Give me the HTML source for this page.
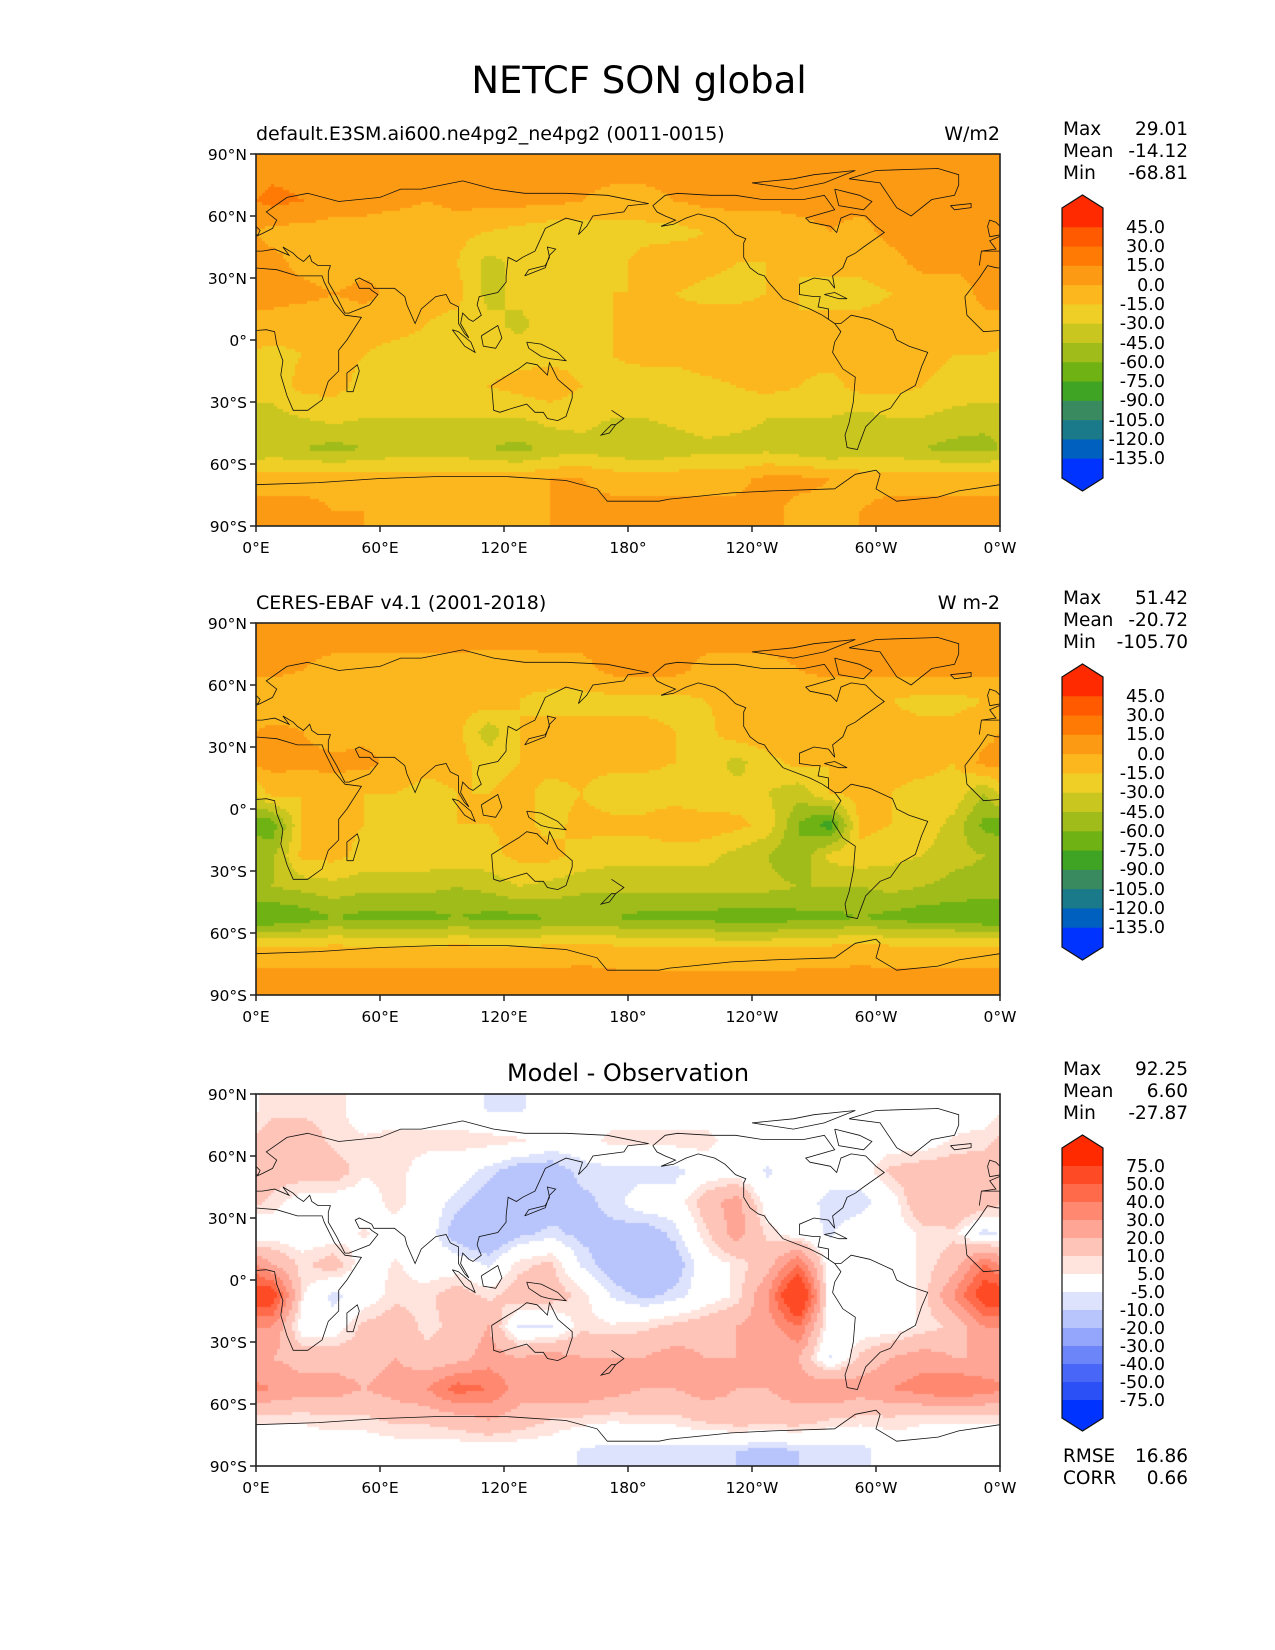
<!DOCTYPE html>
<html><head><meta charset="utf-8">
<style>
body{margin:0;background:#fff;}
#fig{position:relative;width:1275px;height:1650px;overflow:hidden;font-family:"DejaVu Sans","Liberation Sans",sans-serif;color:#000;}
.t{position:absolute;white-space:nowrap;}
canvas{position:absolute;}
svg{position:absolute;left:0;top:0;}
</style></head>
<body>
<div id="fig">
<div class="t" style="left:0;width:1278px;text-align:center;top:59px;font-size:37px;">NETCF SON global</div>
</div>
<script>
// ---------- data ----------
const latLabels=["90°N","60°N","30°N","0°","30°S","60°S","90°S"];
const lonLabels=["0°E","60°E","120°E","180°","120°W","60°W","0°W"];
const absBounds=[-135,-120,-105,-90,-75,-60,-45,-30,-15,0,15,30,45];
const absColors=["#0033ff","#0060c0","#1a7a8a","#398a5e","#3fa423","#6eb213","#a0bc1a","#c9c620","#efcf25","#fdb71e","#fd9a14","#ff7a05","#ff5a00","#ff2a00"];
const diffBounds=[-75,-50,-40,-30,-20,-10,-5,5,10,20,30,40,50,75];
const diffColors=["#0033ff","#2a50f6","#4866f8","#6c86fa","#94a6fb","#b8c4fc","#dde2fd","#ffffff","#ffe3dd","#ffc4b8","#ffa595","#ff8870","#ff6a4a","#ff4a26","#ff2a00"];
const modelStats=["29.01","-14.12","-68.81"];
const obsStats=["51.42","-20.72","-105.70"];
const diffStats=["92.25","6.60","-27.87"];
const diffScores=["16.86","0.66"];
// grids: 12 rows (lat 82.5N .. 82.5S, 15deg), 24 cols (lon 7.5E .. 352.5E, 15deg)
const modelGrid=[
[10,10,5,5,5,5,5,5,5,5,5,5,5,5,5,5,5,5,5,5,5,5,5,5],
[20,15,5,5,5,0,5,5,5,5,0,-5,-5,0,5,5,5,5,5,5,5,5,5,10],
[-5,-5,-5,-5,-10,-10,-10,-15,-20,-25,-25,-20,-20,-20,-15,-10,-10,-5,0,-5,5,5,5,5],
[5,-5,-10,-5,-10,-10,-15,-35,-25,-15,-20,-20,-10,-5,-10,-15,-15,-15,-10,-10,-5,5,5,5],
[5,5,0,5,-5,-10,-10,-35,-25,-20,-20,-15,-15,-15,-20,-20,-15,-15,-20,-20,-15,-10,-10,5],
[-5,-10,-10,-10,-10,-15,-20,-25,-35,-20,-15,-15,-15,-10,-5,-5,-5,-15,-10,-10,-10,-10,-10,-5],
[-20,-15,-10,-15,-20,-20,-20,-20,-20,-20,-20,-15,-10,-10,-5,-5,-5,-10,-10,-10,-5,-10,-15,-15],
[-25,-10,-10,-20,-20,-20,-20,-15,-10,-5,-15,-20,-25,-25,-20,-15,-10,-15,-20,-10,-10,-15,-20,-20],
[-35,-30,-25,-30,-30,-30,-30,-30,-30,-25,-25,-30,-30,-25,-20,-25,-30,-30,-30,-35,-30,-30,-35,-40],
[-40,-45,-50,-45,-40,-40,-40,-45,-50,-40,-35,-40,-45,-40,-35,-35,-35,-40,-45,-40,-40,-45,-50,-50],
[-5,-5,-5,-5,-5,-5,-5,-5,-5,0,0,-5,-5,-5,-5,-5,5,5,0,-5,-5,-5,-5,-5],
[5,5,0,0,-5,-5,-5,-5,-5,0,5,5,5,5,5,5,5,-5,-5,0,5,5,5,5]];
const obsGrid=[
[5,5,5,5,5,5,5,5,5,5,5,5,5,5,5,5,5,5,5,5,5,5,5,5],
[5,0,-5,-5,-5,-5,-5,-10,-10,-5,-5,5,5,5,-5,-5,-5,0,5,5,5,5,5,5],
[-15,-10,-15,-10,-10,-10,-10,-5,-15,-20,-20,-20,-20,-20,-15,-10,-5,-10,-15,-15,-15,-20,-20,-15],
[5,0,-10,-5,-10,-5,-10,-40,-15,-10,-10,-10,-10,-15,-20,-5,-5,-5,-10,-10,-10,-10,-10,-5],
[5,5,5,5,-5,-10,-10,-20,-15,-10,-10,-10,-10,-15,-20,-35,-20,-10,-15,-15,-10,-10,-15,5],
[-10,-15,-10,-15,-15,-20,-15,-15,-10,-20,-15,-25,-25,-25,-30,-25,-30,-40,-15,-10,-15,-20,-20,-45],
[-70,-15,-10,-15,-20,-20,-15,-15,-10,-20,-10,-10,-10,0,-5,-10,-20,-60,-85,-10,-15,-20,-35,-65],
[-50,-10,-10,-20,-20,-20,-20,-20,-10,-10,-20,-25,-25,-25,-25,-35,-45,-60,-25,-20,-25,-30,-40,-45],
[-45,-40,-35,-40,-40,-40,-45,-40,-30,-35,-40,-40,-40,-40,-40,-40,-40,-45,-45,-45,-40,-45,-50,-50],
[-75,-70,-60,-65,-65,-65,-60,-65,-65,-60,-60,-60,-65,-65,-65,-70,-70,-65,-65,-60,-65,-70,-70,-75],
[-10,-10,-10,-10,-10,-10,-10,-10,-10,-10,-5,-10,-15,-15,-15,-15,-15,-10,-10,-5,-10,-10,-10,-10],
[5,5,5,5,5,5,5,5,5,5,5,5,5,5,5,5,5,5,5,5,5,5,5,5]];
const diffGrid=[
[8,8,8,0,0,0,0,-6,-6,0,0,0,0,0,0,0,0,0,0,0,0,0,0,0],
[15,15,8,6,8,8,8,8,6,0,0,8,8,8,8,0,0,0,0,0,0,0,6,8],
[15,15,15,6,8,0,0,-8,-15,-15,-8,-8,-8,-8,0,0,-6,0,0,0,12,15,15,15],
[8,0,0,0,8,0,-8,-15,-20,-15,-12,-8,0,0,15,25,0,0,-8,-8,0,20,20,15],
[0,0,0,6,0,0,-15,-20,-12,-8,-12,-12,-15,-8,8,25,8,0,-6,0,0,6,8,-8],
[20,8,15,0,6,0,0,-6,8,12,-6,-15,-20,-15,0,6,15,40,0,0,0,6,15,40],
[60,6,-8,0,8,8,15,8,15,15,8,-6,-12,-8,0,6,30,75,0,0,0,6,30,60],
[30,0,0,12,15,8,12,20,-6,-6,8,6,8,12,15,20,25,40,0,0,0,6,12,30],
[20,15,15,15,20,12,15,25,20,25,20,20,20,25,20,20,20,20,-6,12,20,25,20,20],
[30,25,25,20,25,30,45,40,25,30,30,25,20,20,25,20,20,25,30,25,30,35,40,35],
[6,6,8,8,12,12,15,20,15,10,8,6,8,8,12,15,15,15,10,8,8,6,6,6],
[0,0,0,0,0,0,0,0,0,0,-6,-8,-8,-8,-8,-10,-12,-10,-8,-8,0,0,0,0]];
const coasts=[
[[-17,21],[-16,12],[-8,4],[5,5],[9,4],[10,-2],[13,-10],[12,-17],[15,-27],[18,-34],[25,-34],[32,-29],[35,-20],[40,-15],[40,-5],[44,0],[51,11],[43,12],[38,18],[33,28],[32,31],[20,31],[10,34],[-2,35],[-6,36],[-10,30],[-17,21]],
[[-10,36],[-9,43],[-2,44],[-5,48],[2,51],[8,54],[10,58],[5,62],[15,69],[25,71],[40,67],[60,69],[70,73],[80,73],[100,77],[115,73],[130,71],[150,71],[170,70],[190,66],[180,65],[178,62],[163,60],[160,55],[156,51],[158,57],[150,59],[140,54],[135,43],[129,40],[126,38],[122,40],[121,31],[121,28],[117,23],[108,21],[107,17],[109,12],[105,9],[103,10],[100,13],[99,8],[103,1],[101,3],[98,8],[98,16],[94,18],[92,22],[87,21],[80,15],[77,8],[73,17],[72,21],[67,25],[57,25],[56,27],[50,30],[48,29],[50,25],[55,25],[56,24],[59,22],[55,17],[45,13],[43,13],[39,21],[35,28],[35,33],[36,36],[30,36],[27,38],[26,41],[23,38],[20,40],[18,42],[13,45],[16,41],[9,44],[3,43],[-9,43],[-10,36]],
[[-5,50],[1,51],[2,53],[-2,57],[-5,58],[-6,55],[-5,50]],
[[130,31],[132,34],[140,36],[142,40],[141,45],[145,44],[142,41],[140,35],[135,33],[130,31]],
[[114,-22],[115,-34],[118,-35],[124,-33],[131,-31],[135,-35],[139,-35],[141,-38],[146,-39],[150,-37],[153,-28],[153,-25],[146,-19],[142,-11],[141,-17],[136,-12],[131,-11],[127,-14],[122,-17],[114,-22]],
[[109,2],[110,-3],[116,-4],[119,1],[117,7],[109,2]],
[[95,5],[98,4],[104,-1],[106,-6],[101,-3],[95,5]],
[[131,-1],[138,-2],[146,-6],[150,-10],[142,-9],[138,-8],[132,-4],[131,-1]],
[[172,-34],[178,-38],[174,-41],[172,-41],[167,-46],[171,-45],[174,-41]],
[[44,-25],[47,-25],[50,-15],[49,-12],[44,-16],[44,-25]],
[[-168,65],[-162,70],[-156,71],[-140,70],[-128,70],[-115,68],[-95,68],[-85,70],[-80,63],[-94,59],[-92,57],[-82,55],[-79,52],[-77,59],[-72,61],[-65,60],[-60,55],[-56,52],[-66,45],[-70,42],[-74,40],[-76,35],[-81,31],[-80,25],[-83,29],[-90,30],[-97,27],[-97,22],[-90,21],[-87,21],[-88,16],[-83,15],[-83,10],[-80,8],[-86,12],[-92,15],[-105,20],[-112,28],[-114,31],[-117,32],[-121,35],[-124,40],[-124,47],[-123,49],[-128,51],[-133,56],[-138,59],[-146,61],[-152,59],[-158,56],[-164,55],[-157,58],[-162,60],[-166,62],[-168,65]],
[[-80,8],[-77,8],[-72,12],[-63,10],[-52,5],[-50,0],[-44,-3],[-35,-6],[-38,-13],[-41,-22],[-48,-26],[-53,-33],[-58,-35],[-62,-39],[-65,-42],[-68,-50],[-69,-53],[-74,-52],[-75,-46],[-73,-40],[-71,-30],[-70,-18],[-76,-14],[-81,-6],[-80,-1],[-77,4],[-80,8]],
[[-73,78],[-60,82],[-30,83],[-20,80],[-20,75],[-22,70],[-33,68],[-43,60],[-50,64],[-54,70],[-58,76],[-73,78]],
[[-24,65],[-14,66],[-14,64],[-22,63],[-24,65]],
[[-80,73],[-68,70],[-62,67],[-66,63],[-78,65],[-80,73]],
[[-120,76],[-100,78],[-90,80],[-70,82],[-85,76],[-100,73],[-120,76]],
[[-85,22],[-80,23],[-74,20],[-78,20],[-85,22]]];
const antarctica=[[0,-70],[30,-69],[60,-67],[90,-66],[120,-66],[150,-68],[165,-72],[170,-78],[180,-78],[195,-78],[200,-77],[210,-76],[230,-74],[250,-73],[280,-72],[290,-65],[300,-63],[302,-65],[300,-72],[310,-78],[330,-76],[340,-73],[360,-70]];

// ---------- layout ----------
const MX=256, MW=744, MH=372;
const panels=[
 {top:154,grid:modelGrid,bounds:absBounds,colors:absColors,left:"default.E3SM.ai600.ne4pg2_ne4pg2 (0011-0015)",right:"W/m2",stats:modelStats,name:"model"},
 {top:623,grid:obsGrid,bounds:absBounds,colors:absColors,left:"CERES-EBAF v4.1 (2001-2018)",right:"W m-2",stats:obsStats,name:"obs"},
 {top:1094,grid:diffGrid,bounds:diffBounds,colors:diffColors,center:"Model - Observation",stats:diffStats,name:"diff"}];
const fig=document.getElementById('fig');
const NS="http://www.w3.org/2000/svg";
function xOf(lon){return MX+lon/360*MW;}
function yOf(top,lat){return top+(90-lat)/180*MH;}
function sample(g,lon,lat){
 let fc=lon/15-0.5, fr=(90-lat)/15-0.5;
 fr=Math.max(0,Math.min(11,fr));
 let c0=Math.floor(fc), t=fc-c0; let r0=Math.min(10,Math.floor(fr)), u=fr-r0;
 const ca=((c0%24)+24)%24, cb=(ca+1)%24;
 const a=g[r0][ca]*(1-t)+g[r0][cb]*t, b=g[r0+1][ca]*(1-t)+g[r0+1][cb]*t;
 return a*(1-u)+b*u;
}
function colorOf(v,bounds,colors){let i=0;while(i<bounds.length&&v>=bounds[i])i++;return colors[i];}
function txt(s,x,y,size,anchor,name){
 const d=document.createElement('div');d.className='t';d.textContent=s;
 
 
 d.style.fontSize=size+'px';d.style.top=(y-size*0.6)+'px';
 if(anchor==='end'){d.style.right=(1275-x)+'px';}
 else if(anchor==='middle'){d.style.left=(x-200)+'px';d.style.width='400px';d.style.textAlign='center';}
 else d.style.left=x+'px';
 fig.appendChild(d);return d;
}
panels.forEach(p=>{
 const cv=document.createElement('canvas');
 
 
 cv.width=MW;cv.height=MH;cv.style.left=MX+'px';cv.style.top=p.top+'px';
 fig.appendChild(cv);
 const ctx=cv.getContext('2d');const S=3;
 for(let y=0;y<MH;y+=S)for(let x=0;x<MW;x+=S){
  const lon=(x+S/2)/MW*360, lat=90-(y+S/2)/MH*180;
  ctx.fillStyle=colorOf(sample(p.grid,lon,lat),p.bounds,p.colors);
  ctx.fillRect(x,y,S,S);
 }
 const svg=document.createElementNS(NS,'svg');
 svg.setAttribute('width',1275);svg.setAttribute('height',1650);
 
 
 const cid='clip-'+p.name;
 svg.innerHTML=`<defs><clipPath id="${cid}"><rect x="${MX}" y="${p.top}" width="${MW}" height="${MH}"/></clipPath></defs>`;
 const g=document.createElementNS(NS,'g');g.setAttribute('clip-path',`url(#${cid})`);
 
 
 svg.appendChild(g);
 coasts.forEach(poly=>{[0,360].forEach(off=>{
  const pl=document.createElementNS(NS,'polyline');
  pl.setAttribute('points',poly.map(q=>xOf(q[0]+off).toFixed(1)+','+yOf(p.top,q[1]).toFixed(1)).join(' '));
  pl.setAttribute('fill','none');pl.setAttribute('stroke','#111');pl.setAttribute('stroke-width','0.8');
  
  
  g.appendChild(pl);});});
 const an=document.createElementNS(NS,'polyline');
 an.setAttribute('points',antarctica.map(q=>xOf(q[0]).toFixed(1)+','+yOf(p.top,q[1]).toFixed(1)).join(' '));
 an.setAttribute('fill','none');an.setAttribute('stroke','#111');an.setAttribute('stroke-width','0.8');
 
 
 g.appendChild(an);
 const fr=document.createElementNS(NS,'rect');
 fr.setAttribute('x',MX);fr.setAttribute('y',p.top);fr.setAttribute('width',MW);fr.setAttribute('height',MH);
 fr.setAttribute('fill','none');fr.setAttribute('stroke','#222');fr.setAttribute('stroke-width','1.6');
 
 
 svg.appendChild(fr);
 latLabels.forEach((l,i)=>{
  const y=p.top+i*MH/6;
  const tk=document.createElementNS(NS,'line');
  tk.setAttribute('x1',MX-6);tk.setAttribute('x2',MX);tk.setAttribute('y1',y);tk.setAttribute('y2',y);tk.setAttribute('stroke','#222');tk.setAttribute('stroke-width','1.5');
  
  
  svg.appendChild(tk);
  txt(l,MX-9,y+1,15.5,'end','y-tick-label');
 });
 lonLabels.forEach((l,i)=>{
  const x=MX+i*MW/6;
  const tk=document.createElementNS(NS,'line');
  tk.setAttribute('x1',x);tk.setAttribute('x2',x);tk.setAttribute('y1',p.top+MH);tk.setAttribute('y2',p.top+MH+6);tk.setAttribute('stroke','#222');tk.setAttribute('stroke-width','1.5');
  
  
  svg.appendChild(tk);
  txt(l,x,p.top+MH+22,15.5,'middle','x-tick-label');
 });
 // colorbar
 const cx=1062, cw=41, ry=p.top+54, n=p.colors.length, bh=270/n;
 p.colors.slice().reverse().forEach((c,i)=>{
  const r=document.createElementNS(NS,'rect');
  r.setAttribute('x',cx);r.setAttribute('y',ry+i*bh);r.setAttribute('width',cw);r.setAttribute('height',bh+0.5);r.setAttribute('fill',c);
  
  
  svg.appendChild(r);
 });
 const top=p.colors[p.colors.length-1], bot=p.colors[0];
 const tri1=document.createElementNS(NS,'polygon');
 tri1.setAttribute('points',`${cx},${ry} ${cx+cw/2},${ry-13} ${cx+cw},${ry}`);tri1.setAttribute('fill',top);
 
 
 svg.appendChild(tri1);
 const tri2=document.createElementNS(NS,'polygon');
 tri2.setAttribute('points',`${cx},${ry+270} ${cx+cw/2},${ry+283} ${cx+cw},${ry+270}`);tri2.setAttribute('fill',bot);
 
 
 svg.appendChild(tri2);
 const ol=document.createElementNS(NS,'polygon');
 ol.setAttribute('points',`${cx},${ry} ${cx+cw/2},${ry-13} ${cx+cw},${ry} ${cx+cw},${ry+270} ${cx+cw/2},${ry+283} ${cx},${ry+270}`);
 ol.setAttribute('fill','none');ol.setAttribute('stroke','#111');ol.setAttribute('stroke-width','1.2');
 
 
 svg.appendChild(ol);
 fig.appendChild(svg);
 p.bounds.slice().reverse().forEach((b,i)=>{
  txt(b.toFixed(1),1165,ry+(i+1)*bh+1,17.5,'end','colorbar-label');
 });
 // titles
 if(p.left){txt(p.left,MX,p.top-20,19,'start',p.name+'-title');txt(p.right,MX+MW,p.top-20,19,'end',p.name+'-units');}
 if(p.center){txt(p.center,MX+MW/2,p.top-21,24,'middle',p.name+'-title');}
 ["Max","Mean","Min"].forEach((k,i)=>{
  txt(k,1063,p.top-24+i*22,18.5,'start','stat-name');
  txt(p.stats[i],1188,p.top-24+i*22,18.5,'end','stat-value');
 });
});
["RMSE","CORR"].forEach((k,i)=>{
 txt(k,1063,1457+i*22,18.5,'start','score-name');
 txt(diffScores[i],1188,1457+i*22,18.5,'end','score-value');
});
</script>
</body></html>
